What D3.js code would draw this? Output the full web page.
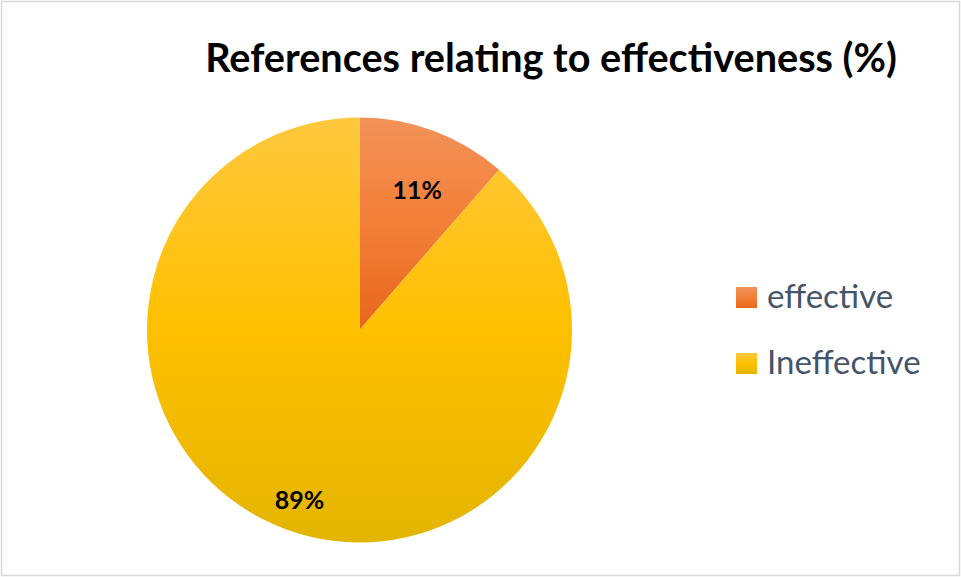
<!DOCTYPE html>
<html><head><meta charset="utf-8">
<script src="https://cdn.jsdelivr.net/npm/d3@7"></script>
<style>html,body{margin:0;padding:0;background:#fff;}svg{display:block;}</style>
</head><body>
<script>
const categories = ["effective", "Ineffective"];
const values = [11.4, 88.6];
const labels = ["11%", "89%"];
const title = "References relating to effectiveness (%)";

const W = 961, H = 577;
const svg = d3.select("body").append("svg").attr("width", W).attr("height", H);

svg.append("rect").attr("x", 1.5).attr("y", 1.5).attr("width", W - 3).attr("height", H - 3)
  .attr("fill", "#fff").attr("stroke", "#D9D9D9").attr("stroke-width", 1.5);

const gradStops = [
  [["0", "#F29259"], ["0.5", "#F37F38"], ["1", "#E8661C"]],
  [["0", "#FFC83E"], ["0.5", "#FFC000"], ["1", "#E3B500"]]
];
const defs = svg.append("defs");
gradStops.forEach((stops, i) => {
  const g = defs.append("linearGradient").attr("id", "g" + i)
    .attr("x1", 0).attr("y1", 0).attr("x2", 0).attr("y2", 1);
  stops.forEach(s => g.append("stop").attr("offset", s[0]).attr("stop-color", s[1]));
});

const font = "Lato, 'Open Sans', sans-serif";
const t = svg.append("text").attr("x", 551).attr("y", 72).attr("text-anchor", "middle")
  .attr("font-family", font).attr("font-weight", "bold")
  .attr("font-size", 36).attr("fill", "#000").text(title);
const tw = t.node().getComputedTextLength();
t.attr("font-size", 36 * 692 / tw);

const cx = 359.5, cy = 330, r = 212.5;
const pie = d3.pie().sort(null).value(d => d)(values);
const arc = d3.arc().innerRadius(0).outerRadius(r);
const g = svg.append("g").attr("transform", `translate(${cx},${cy})`);
g.selectAll("path").data(pie).join("path")
  .attr("d", arc).attr("fill", (d, i) => `url(#g${i})`);

const labelRatio = [0.71, 0.85];
g.selectAll("text.lbl").data(pie).join("text").attr("class", "lbl")
  .attr("transform", (d, i) => {
    const a = (d.startAngle + d.endAngle) / 2 + (i === 0 ? 0.035 : -0.02);
    const rr = r * labelRatio[i];
    return `translate(${rr * Math.sin(a)},${-rr * Math.cos(a)})`;
  })
  .attr("text-anchor", "middle").attr("dy", "0.35em")
  .attr("font-family", font).attr("font-weight", "bold")
  .attr("font-size", 25).attr("fill", "#000")
  .text((d, i) => labels[i]);

const legend = svg.append("g");
categories.forEach((c, i) => {
  const y = 287 + i * 66;
  legend.append("rect").attr("x", 736).attr("y", y).attr("width", 21).attr("height", 21)
    .attr("fill", `url(#g${i})`);
  legend.append("text").attr("x", 767).attr("y", y + 21)
    .attr("font-family", font).attr("font-size", 33)
    .attr("fill", "#44546A").text(c);
});
</script>
</body></html>
